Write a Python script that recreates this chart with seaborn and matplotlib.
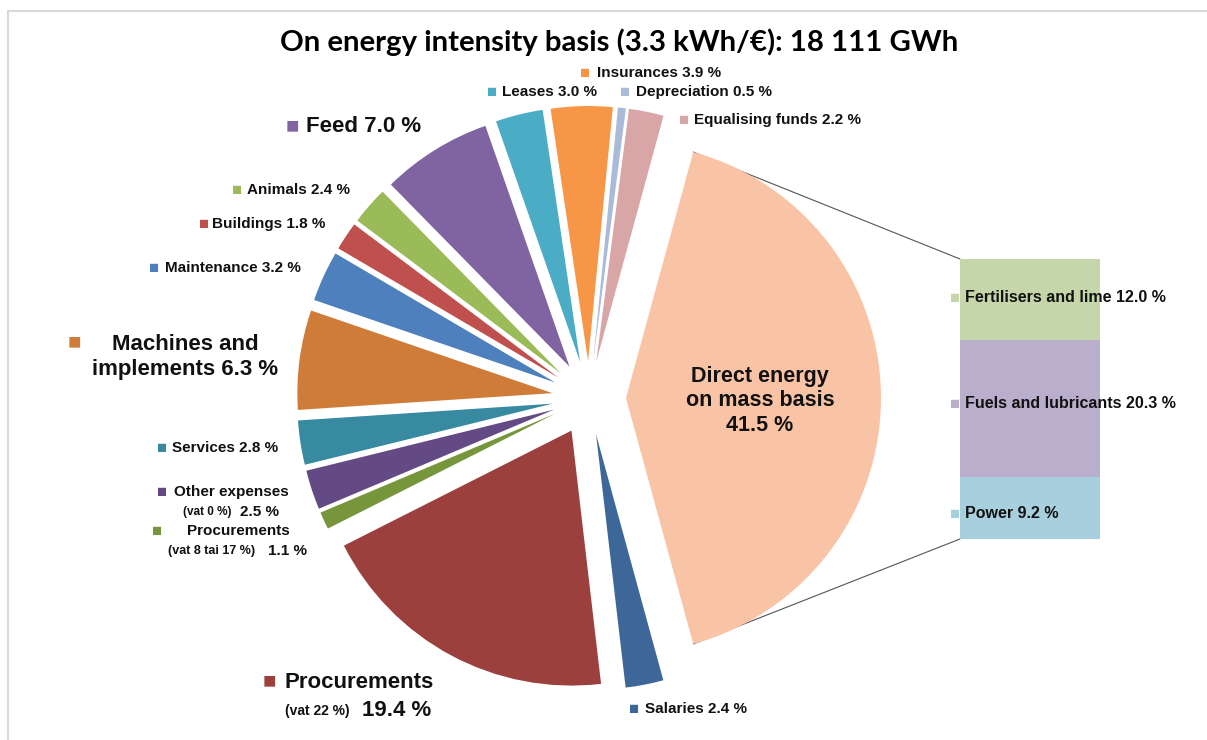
"""
energy use pie of bar
"""

import matplotlib

matplotlib.use("Agg")
import matplotlib.pyplot as plt
import seaborn as sns
from matplotlib.patches import ConnectionPatch
import numpy as np

# data
# pie slices, clockwise starting from the direct energy slice
names = [
    "Direct energy\non mass basis",
    "Salaries",
    "Procurements",
    "Procurements",
    "Other expenses",
    "Services",
    "Machines and\nimplements",
    "Maintenance",
    "Buildings",
    "Animals",
    "Feed",
    "Leases",
    "Insurances",
    "Depreciation",
    "Equalising funds",
]
notes = ["", "", "(vat 22 %)", "(vat 8 tai 17 %)", "(vat 0 %)"] + [""] * 10
shares = [41.5, 2.4, 19.4, 1.1, 2.5, 2.8, 6.3, 3.2, 1.8, 2.4, 7.0, 3.0, 3.9, 0.5, 2.2]
colours = [
    "#F9C3A5", "#3E6799", "#9C403E", "#77963C", "#644A84",
    "#378A9F", "#CF7C39", "#4E80BD", "#C0504D", "#9BBB59",
    "#8064A2", "#4BACC6", "#F79646", "#AABBDA", "#D9A6A7",
]
# breakdown of direct energy, bottom to top
parts = ["Power", "Fuels and lubricants", "Fertilisers and lime"]
part_shares = [9.2, 20.3, 12.0]
part_colours = ["#A8CFDD", "#B9AECB", "#C5D7AA"]

W, H = 1207, 740
R = 255
sns.set_theme(style="white")
plt.rcParams["font.family"] = ["Liberation Sans", "DejaVu Sans"]

fig = plt.figure(figsize=(W / 100, H / 100), dpi=100)
ax = fig.add_axes([0, 0, 1, 1])

wedges, _ = ax.pie(
    shares,
    colors=colours,
    startangle=shares[0] / sum(shares) * 180,
    counterclock=False,
    explode=[0.145 * R] * len(shares),  # pie explode is in data units
    radius=R,
    center=(589, H - 398),
    wedgeprops={"linewidth": 0},
)
ax.set_xlim(0, W)
ax.set_ylim(0, H)
ax.set_aspect("auto")
ax.axis("off")

# stacked bar for the direct energy slice
ax2 = fig.add_axes([960 / W, (H - 539) / H, 140 / W, 280 / H])
bottoms = np.concatenate([[0], np.cumsum(part_shares)[:-1]])
ax2.bar(0, part_shares, bottom=bottoms, width=1, color=part_colours, linewidth=0)
ax2.set_xlim(-0.5, 0.5)
ax2.set_ylim(0, sum(part_shares))
ax2.axis("off")

# connector lines from the slice corners to the bar corners
w = wedges[0]
for theta, ybar in ((w.theta2, sum(part_shares)), (w.theta1, 0)):
    corner = (
        w.center[0] + w.r * np.cos(np.radians(theta)),
        w.center[1] + w.r * np.sin(np.radians(theta)),
    )
    con = ConnectionPatch(
        xyA=corner, coordsA=ax.transData, xyB=(-0.5, ybar), coordsB=ax2.transData,
        color="#555555", lw=0.8, zorder=0.5,
    )
    ax.add_artist(con)


def put(x, y, s, **kw):
    kw.setdefault("fontweight", "bold")
    kw.setdefault("va", "center")
    kw.setdefault("color", "#111111")
    fig.text(x / W, 1 - y / H, s, **kw)


def square(x, y, c, size=12):
    put(x, y, "\u25a0", color=c, fontsize=size, ha="center")


def pct(v):
    return f"{v:.1f} %"


# simple one line labels: index, square x, text x, y, size
simple = [
    (1, 634, 645, 709, 11),
    (5, 162, 172, 448, 11),
    (7, 154, 165, 268, 11),
    (8, 204, 212, 224, 11),
    (9, 237, 247, 190, 11),
    (10, 292, 306, 127, 16),
    (11, 492, 502, 92, 11),
    (12, 585, 597, 73, 11),
    (13, 625, 636, 92, 11),
    (14, 684, 694, 120, 11),
]
for i, xs, xt, y, size in simple:
    square(xs, y, colours[i], 12 if size < 14 else 16)
    put(xt, y, f"{names[i]} {pct(shares[i])}", fontsize=size)

# machines and implements
square(74, 343, colours[6], 16)
put(185, 357, f"{names[6]} {pct(shares[6])}", fontsize=16, ha="center",
    multialignment="center", linespacing=1.25)

# other expenses
square(162, 492, colours[4])
put(174, 492, names[4], fontsize=11)
put(183, 512, notes[4], fontsize=8.5)
put(240, 512, pct(shares[4]), fontsize=11)

# small procurements
square(157, 531, colours[3])
put(187, 531, names[3], fontsize=11)
put(168, 551, notes[3], fontsize=9)
put(268, 551, pct(shares[3]), fontsize=11)

# big procurements
square(269, 682, colours[2], 16)
put(284, 682, names[2], fontsize=16)
put(285, 711, notes[2], fontsize=10)
put(362, 711, pct(shares[2]), fontsize=16)

# direct energy label on the slice
put(760, 401, f"{names[0]}\n{pct(shares[0])}", fontsize=15.5, ha="center",
    multialignment="center", linespacing=1.2)

# bar labels
for name, v, c, y in zip(parts, part_shares, part_colours, (514, 404, 298)):
    square(955, y, c)
    put(965, y, f"{name} {pct(v)}", fontsize=11.5)

# title
put(619, 42, "On energy intensity basis (3.3 kWh/\u20ac): 18 111 GWh", fontsize=21.2,
    ha="center", family=["Lato", "DejaVu Sans"], color="black")

# chart area border (top and left edges)
fig.add_artist(plt.Line2D([8 / W, 1], [1 - 11 / H, 1 - 11 / H], color="#D9D9D9", lw=1.5))
fig.add_artist(plt.Line2D([8 / W, 8 / W], [0, 1 - 11 / H], color="#D9D9D9", lw=1.5))

fig.savefig("out.png", dpi=100)
